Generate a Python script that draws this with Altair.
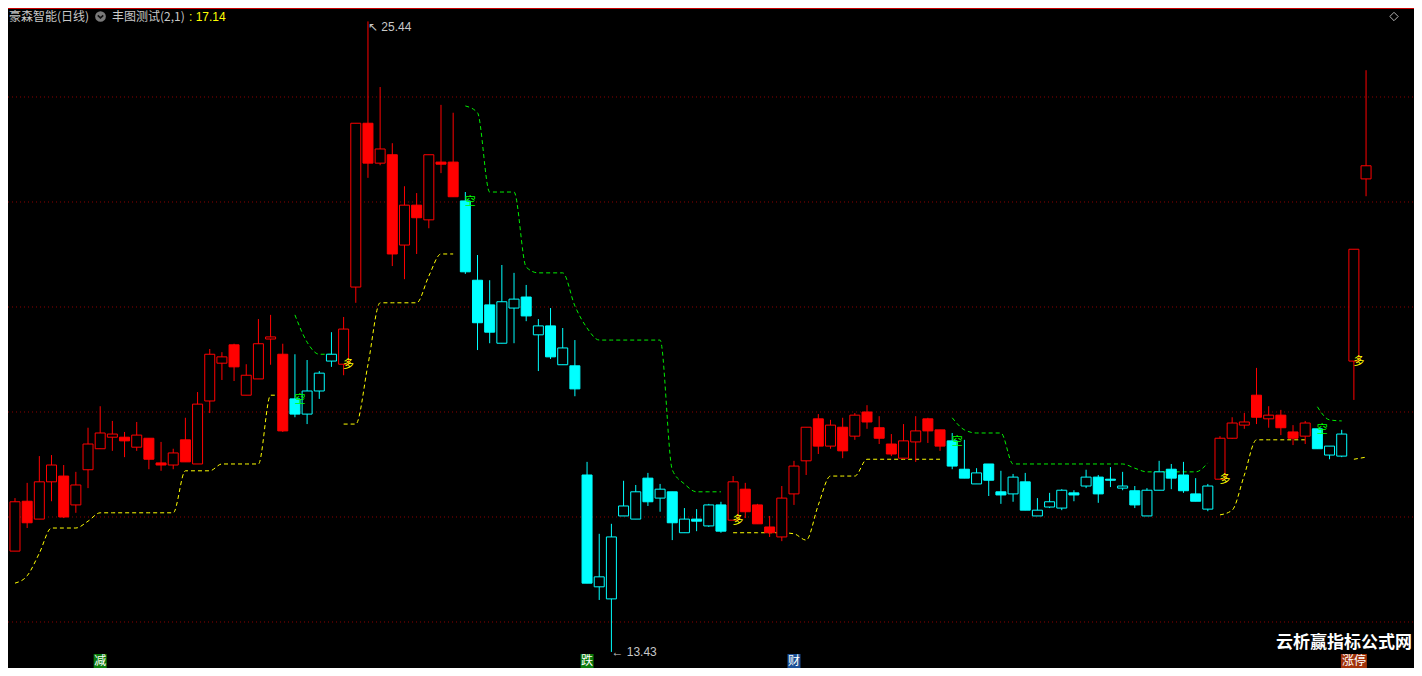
import altair as alt
import pandas as pd

# ---------------- data ----------------
opens = [15.35, 16.30, 15.96, 16.67, 16.78, 16.23, 16.90, 17.30, 17.52, 17.52,
         17.33, 17.50, 17.03, 16.99, 17.47, 17.01, 18.21, 18.93, 19.28, 18.32,
         18.63, 19.39, 19.10, 18.25, 17.96, 18.40, 18.97, 18.91, 20.38, 23.50,
         22.74, 22.90, 21.18, 21.94, 21.66, 22.76, 22.76, 22.02, 20.51, 20.04,
         19.31, 19.98, 20.19, 19.47, 19.64, 18.90, 18.88, 16.80, 14.67, 14.44,
         16.02, 15.96, 16.74, 16.36, 16.48, 15.70, 15.96, 15.83, 16.23, 15.94,
         16.53, 16.23, 15.81, 15.62, 16.44, 17.07, 17.87, 17.35, 17.71, 17.54,
         18.00, 17.70, 17.39, 17.12, 17.43, 17.87, 17.66, 17.45, 16.91, 16.63,
         17.01, 16.48, 16.44, 16.67, 16.02, 16.19, 16.17, 16.46, 16.59, 16.76,
         16.72, 16.55, 16.50, 16.02, 16.51, 16.91, 16.80, 16.44, 16.15, 16.72,
         17.50, 17.75, 18.32, 17.87, 17.94, 17.62, 17.54, 17.68, 17.18, 17.16,
         18.97, 22.44]
highs = [16.36, 16.65, 17.16, 17.18, 16.99, 16.86, 17.70, 18.11, 17.83, 17.62,
         17.81, 17.50, 17.43, 17.30, 17.89, 18.38, 19.20, 19.14, 19.30, 18.91,
         19.77, 19.85, 19.30, 19.10, 18.99, 18.78, 19.52, 19.81, 23.50, 25.44,
         24.19, 23.12, 22.30, 22.17, 22.90, 23.85, 23.70, 22.19, 20.99, 20.51,
         20.80, 20.65, 20.42, 19.77, 19.98, 19.60, 19.37, 17.05, 15.68, 15.87,
         16.69, 16.61, 16.84, 16.63, 16.48, 16.17, 16.15, 16.25, 16.29, 16.78,
         16.65, 16.25, 16.02, 16.59, 17.07, 17.71, 17.96, 17.85, 17.89, 17.98,
         18.13, 17.92, 17.58, 17.77, 17.92, 17.89, 17.66, 17.60, 17.47, 16.93,
         17.01, 16.88, 16.82, 16.84, 16.36, 16.46, 16.53, 16.51, 16.90, 16.80,
         16.95, 16.86, 16.59, 16.55, 17.07, 17.01, 17.05, 16.74, 16.63, 17.54,
         17.90, 17.98, 18.84, 18.11, 18.04, 17.75, 17.83, 17.68, 17.35, 17.66,
         21.10, 24.51]
lows = [15.35, 15.79, 15.96, 16.30, 15.98, 16.08, 16.55, 17.30, 17.26, 17.14,
        17.26, 16.91, 16.88, 16.91, 17.05, 17.01, 17.98, 18.61, 18.59, 18.32,
        18.63, 18.90, 17.62, 17.90, 17.77, 18.25, 18.86, 18.70, 20.08, 22.46,
        22.70, 20.78, 20.53, 21.01, 21.50, 22.55, 22.10, 20.63, 19.18, 19.31,
        19.31, 19.31, 19.73, 18.78, 19.01, 18.90, 18.30, 14.74, 14.42, 13.43,
        16.02, 15.96, 16.21, 16.10, 15.56, 15.70, 15.73, 15.81, 15.70, 15.94,
        15.98, 15.87, 15.62, 15.54, 16.23, 16.80, 17.20, 17.30, 17.12, 17.47,
        17.68, 17.39, 17.16, 17.12, 17.05, 17.41, 17.26, 16.91, 16.74, 16.63,
        16.40, 16.25, 16.29, 16.13, 16.02, 16.17, 16.13, 16.30, 16.55, 16.27,
        16.57, 16.51, 16.17, 16.02, 16.51, 16.53, 16.46, 16.30, 16.11, 16.72,
        17.49, 17.68, 17.77, 17.70, 17.56, 17.37, 17.39, 17.30, 17.10, 17.14,
        18.23, 22.11]
closes = [16.29, 15.89, 16.67, 16.99, 16.00, 16.61, 17.39, 17.60, 17.58, 17.45,
          17.56, 17.10, 16.99, 17.22, 17.05, 18.15, 19.10, 19.05, 18.86, 18.70,
          19.30, 19.43, 17.64, 17.96, 18.40, 18.74, 19.10, 19.58, 23.50, 22.74,
          23.01, 21.01, 21.94, 21.70, 22.90, 22.72, 22.10, 20.67, 19.70, 19.52,
          20.10, 20.15, 19.83, 19.64, 19.05, 19.22, 18.44, 14.74, 14.86, 15.62,
          16.21, 16.48, 16.29, 16.53, 15.89, 15.96, 15.92, 16.23, 15.73, 16.67,
          16.10, 15.87, 15.70, 16.36, 16.97, 17.71, 17.35, 17.75, 17.26, 17.94,
          17.81, 17.50, 17.20, 17.45, 17.64, 17.64, 17.35, 16.97, 16.74, 16.84,
          16.70, 16.42, 16.76, 16.13, 16.13, 16.29, 16.51, 16.42, 16.76, 16.44,
          16.70, 16.59, 16.23, 16.51, 16.86, 16.74, 16.50, 16.30, 16.59, 17.50,
          17.79, 17.81, 17.90, 17.94, 17.70, 17.50, 17.79, 17.30, 17.35, 17.58,
          21.10, 22.69]
# indicator state per bar, as runs: R = red (long), C = cyan (short)
trend_runs = [("R", 23), ("C", 4), ("R", 10), ("C", 22), ("R", 18),
              ("C", 22), ("R", 8), ("C", 3), ("R", 2)]
N_ = None
support = [14.74, 14.88, 15.31, 15.79, 15.79, 15.79, 15.92, 16.08, 16.08, 16.08,
           16.08, 16.08, 16.08, 16.08, 16.88, 16.88, 16.88, 17.01, 17.01, 17.01,
           17.01, 18.32, 18.32, N_, N_, N_, N_, 17.77, 17.77, 18.90,
           20.08, 20.08, 20.08, 20.08, 20.59, 21.01, 21.01, N_, N_, N_,
           N_, N_, N_, N_, N_, N_, N_, N_, N_, N_,
           N_, N_, N_, N_, N_, N_, N_, N_, N_, 15.70,
           15.70, 15.70, 15.70, 15.70, 15.68, 15.56, 16.23, 16.78, 16.78, 16.78,
           17.10, 17.10, 17.10, 17.10, 17.10, 17.10, 17.10, N_, N_, N_,
           N_, N_, N_, N_, N_, N_, N_, N_, N_, N_,
           N_, N_, N_, N_, N_, N_, N_, N_, N_, 16.04,
           16.13, 16.80, 17.47, 17.47, 17.47, 17.47, 17.47, N_, N_, N_,
           17.10, 17.14]
resistance = [N_, N_, N_, N_, N_, N_, N_, N_, N_, N_,
              N_, N_, N_, N_, N_, N_, N_, N_, N_, N_,
              N_, N_, N_, 19.85, 19.33, 19.10, 19.10, N_, N_, N_,
              N_, N_, N_, N_, N_, N_, N_, 23.83, 23.70, 22.19,
              22.19, 22.19, 20.76, 20.65, 20.65, 20.65, 20.02, 19.60, 19.37, 19.37,
              19.37, 19.37, 19.37, 19.37, 16.90, 16.63, 16.48, 16.48, 16.48, N_,
              N_, N_, N_, N_, N_, N_, N_, N_, N_, N_,
              N_, N_, N_, N_, N_, N_, N_, 17.89, 17.66, 17.60,
              17.60, 17.60, 17.01, 17.01, 17.01, 17.01, 17.01, 17.01, 17.01, 17.01,
              17.01, 17.01, 16.93, 16.86, 16.86, 16.86, 16.86, 16.86, 17.03, N_,
              N_, N_, N_, N_, N_, N_, N_, 18.10, 17.85, 17.83,
              N_, N_]
buy_idx = [27, 59, 99, 110]
sell_idx = [23, 37, 77, 107]
grid_prices = [14, 16, 18, 20, 22, 24]
hi_idx, hi_val = 29, 25.44
lo_idx, lo_val = 49, 13.43
event_idx = [7, 47, 64, 110]
event_text = ["减", "跌", "财", "涨停"]
event_kind = ["g", "g", "b", "r"]
stock_name = "豪森智能(日线)"
indicator_name = "丰图测试(2,1)"
watermark = "云析赢指标公式网"

# ---------------- build tables ----------------
W, H = 1406, 660
CJK = "Noto Sans CJK SC"
n = len(opens)
trend = []
for k, c in trend_runs:
    trend += [k] * c
df = pd.DataFrame({"i": list(range(n)), "open": opens, "high": highs,
                   "low": lows, "close": closes, "trend": trend})
df["body"] = ["H" if c >= o else t for o, c, t in zip(opens, closes, trend)]


def segments(vals):
    rows, seg, prev = [], 0, None
    for i, v in enumerate(vals):
        if v is None:
            prev = None
            continue
        if prev is None:
            seg += 1
        rows.append({"i": i, "v": v, "seg": seg})
        prev = v
    return pd.DataFrame(rows)


X = alt.Scale(domain=[-0.1631, 114.528], nice=False, zero=False)
Y = alt.Scale(domain=[13.1238, 25.6952], nice=False, zero=False)
COL = alt.Scale(domain=["R", "C"], range=["#ff0000", "#00ffff"])
FILL = alt.Scale(domain=["R", "C", "H"], range=["#ff0000", "#00ffff", "#000000"])
xe = alt.X("i:Q", scale=X, axis=None)

one = alt.Chart(pd.DataFrame({"a": [0]}))

grid = alt.Chart(pd.DataFrame({"p": grid_prices})).mark_rule(
    color="#8c0000", strokeDash=[1, 3], strokeWidth=1
).encode(y=alt.Y("p:Q", scale=Y, axis=None), x=alt.value(0), x2=alt.value(W))

top = one.mark_rule(color="#c80000", strokeWidth=1).encode(
    x=alt.value(0), x2=alt.value(W), y=alt.value(0.5))

sup = alt.Chart(segments(support)).mark_line(
    color="#ffff00", strokeWidth=1, strokeDash=[4, 3], interpolate="monotone"
).encode(x=xe, y=alt.Y("v:Q", scale=Y, axis=None), detail="seg:N")

res = alt.Chart(segments(resistance)).mark_line(
    color="#00ee00", strokeWidth=1, strokeDash=[4, 3], interpolate="monotone"
).encode(x=xe, y=alt.Y("v:Q", scale=Y, axis=None), detail="seg:N")

wick = alt.Chart(df).mark_rule(strokeWidth=1).encode(
    x=xe, y=alt.Y("low:Q", scale=Y, axis=None), y2="high:Q",
    color=alt.Color("trend:N", scale=COL, legend=None))

body = alt.Chart(df).mark_bar(width=10, strokeWidth=1, orient="vertical", opacity=1).encode(
    x=xe, y=alt.Y("open:Q", scale=Y, axis=None), y2="close:Q",
    stroke=alt.Stroke("trend:N", scale=COL, legend=None),
    fill=alt.Fill("body:N", scale=FILL, legend=None))

buy_df = pd.DataFrame({"i": buy_idx, "p": [opens[k] for k in buy_idx]})
sell_df = pd.DataFrame({"i": sell_idx, "p": [opens[k] for k in sell_idx]})
buy = alt.Chart(buy_df).mark_text(text="多", color="#ffff00", fontSize=11, font=CJK, dx=5, dy=1).encode(
    x=xe, y=alt.Y("p:Q", scale=Y, axis=None))
sell = alt.Chart(sell_df).mark_text(text="空", color="#00ff00", fontSize=11, font=CJK, dx=5, dy=1).encode(
    x=xe, y=alt.Y("p:Q", scale=Y, axis=None))

hi_t = alt.Chart(pd.DataFrame({"i": [hi_idx], "p": [hi_val], "t": [f"↖ {hi_val:.2f}"]})).mark_text(
    align="left", baseline="middle", color="#c8c8c8", fontSize=12, font="Liberation Sans", dx=0, dy=5.5
).encode(x=xe, y=alt.Y("p:Q", scale=Y, axis=None), text="t:N")
lo_t = alt.Chart(pd.DataFrame({"i": [lo_idx], "p": [lo_val], "t": [f"← {lo_val:.2f}"]})).mark_text(
    align="left", baseline="middle", color="#c8c8c8", fontSize=12, font="Liberation Sans", dx=0, dy=0
).encode(x=xe, y=alt.Y("p:Q", scale=Y, axis=None), text="t:N")

box_colors = {"g": "#0b7a0b", "b": "#1c4f94", "r": "#a0320a"}
boxes = []
for ei, et, ek in zip(event_idx, event_text, event_kind):
    boxes.append(
        alt.Chart(pd.DataFrame({"i": [ei]})).mark_bar(
            width=13 * len(et), orient="vertical", color=box_colors[ek], opacity=1
        ).encode(x=xe, y=alt.value(646), y2=alt.value(660)))
ev_text = alt.Chart(pd.DataFrame({"i": event_idx, "t": event_text})).mark_text(
    color="#ffffff", fontSize=12, font=CJK, baseline="middle"
).encode(x=xe, y=alt.value(653), text="t:N")

TY = 8.5
t1 = one.mark_text(text=stock_name, align="left", baseline="middle", color="#c8c8c8",
                   fontSize=12, font=CJK).encode(x=alt.value(1), y=alt.value(TY))
icon = one.mark_point(shape="circle", filled=True, size=115, color="#7a7a7a", opacity=1).encode(
    x=alt.value(92.5), y=alt.value(TY))
chev = one.mark_point(shape="M-1,-0.4L0,0.5L1,-0.4", filled=False, size=30, color="#111111",
                      strokeWidth=1.6, opacity=1).encode(x=alt.value(92.5), y=alt.value(TY))
t2 = one.mark_text(text=indicator_name, align="left", baseline="middle", color="#c8c8c8",
                   fontSize=12, font=CJK).encode(x=alt.value(104), y=alt.value(TY))
t3 = one.mark_text(text=f": {support[-1]:.2f}", align="left", baseline="middle", color="#ffff00",
                   fontSize=12, font="Liberation Sans").encode(x=alt.value(181), y=alt.value(TY))
diamond = one.mark_point(shape="diamond", filled=False, size=70, color="#b4b4b4",
                         strokeWidth=1, opacity=1).encode(x=alt.value(1386), y=alt.value(TY))
wm = one.mark_text(text=watermark, align="left", baseline="middle", color="#ffffff",
                   fontSize=17, fontWeight="bold", font=CJK).encode(x=alt.value(1268), y=alt.value(635))

chart = alt.layer(
    grid, top, sup, res, wick, body, buy, sell, hi_t, lo_t, *boxes, ev_text,
    t1, icon, chev, t2, t3, diamond, wm
).properties(
    width=W, height=H, padding=0,
    autosize=alt.AutoSizeParams(type="none"),
    background="#000000",
).configure_view(strokeWidth=0)

chart.save("out.html", embed_options={"renderer": "svg", "actions": False})
